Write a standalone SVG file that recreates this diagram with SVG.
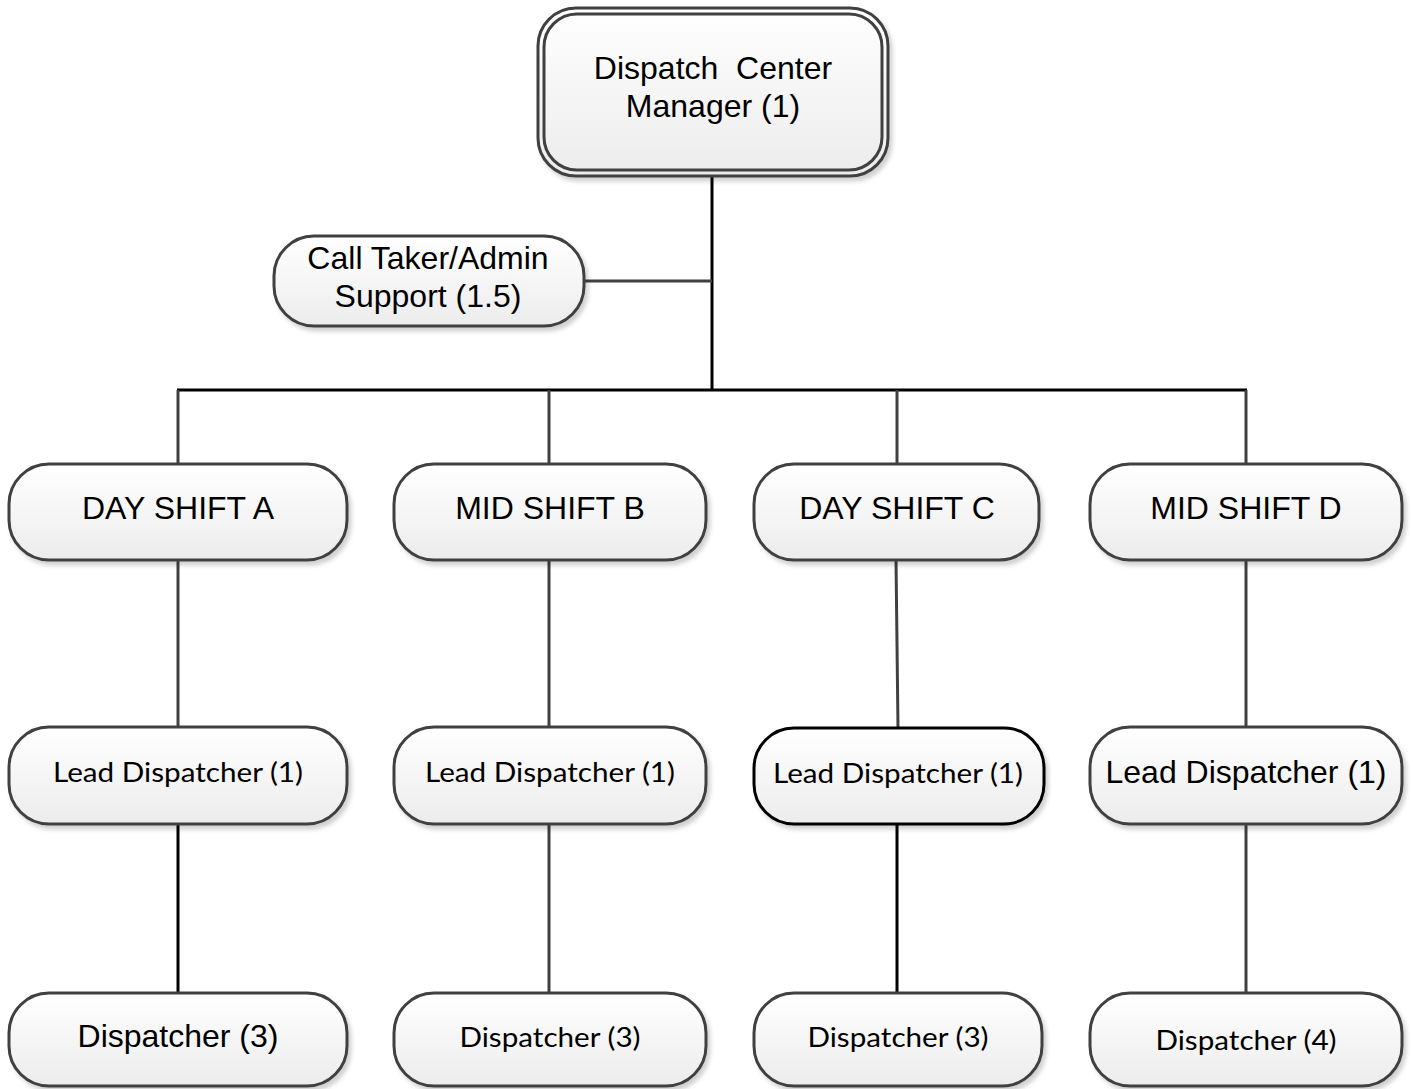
<svg xmlns="http://www.w3.org/2000/svg" width="1413" height="1089" viewBox="0 0 1413 1089">
  <defs>
    <linearGradient id="boxFill" x1="0" y1="0" x2="0" y2="1">
      <stop offset="0" stop-color="#ffffff"/>
      <stop offset="1" stop-color="#ececec"/>
    </linearGradient>
    <filter id="shadow" x="-5%" y="-5%" width="115%" height="125%">
      <feDropShadow dx="3" dy="4" stdDeviation="2" flood-color="#000" flood-opacity="0.18"/>
    </filter>
  </defs>
  <style>
    .box { fill: url(#boxFill); stroke: #404040; stroke-width: 3; filter: url(#shadow); }
    .box-dark { stroke: #000; }
    .ring { fill: none; stroke: #404040; stroke-width: 3; }
    .arial { font-family: "Liberation Sans", Arial, sans-serif; font-size: 32px; fill: #000; text-anchor: middle; }
    .cal { font-family: Lato, "Noto Sans", sans-serif; font-size: 27px; fill: #000; text-anchor: middle; }
    .wire { stroke: #404040; stroke-width: 3; fill: none; }
    .wire-dark { stroke: #000; stroke-width: 3; fill: none; }
  </style>
  <rect width="1413" height="1089" fill="#fff"/>

  <!-- connectors -->
  <g id="connectors">
    <line class="wire-dark" x1="712" y1="176" x2="712" y2="391"/>
    <line class="wire" x1="583" y1="281" x2="712" y2="281"/>
    <line class="wire-dark" x1="177" y1="390" x2="1247" y2="390"/>
    <line class="wire" x1="178" y1="390" x2="178" y2="465"/>
    <line class="wire" x1="549" y1="390" x2="549" y2="465"/>
    <line class="wire" x1="897" y1="390" x2="897" y2="465"/>
    <line class="wire" x1="1246" y1="390" x2="1246" y2="465"/>
    <line class="wire" x1="178" y1="560" x2="178" y2="728"/>
    <line class="wire" x1="549" y1="560" x2="549" y2="728"/>
    <line class="wire" x1="896" y1="560" x2="898" y2="728"/>
    <line class="wire" x1="1246" y1="560" x2="1246" y2="728"/>
    <line class="wire-dark" x1="178" y1="824" x2="178" y2="994"/>
    <line class="wire" x1="549" y1="824" x2="549" y2="994"/>
    <line class="wire-dark" x1="897" y1="824" x2="897" y2="994"/>
    <line class="wire" x1="1246" y1="824" x2="1246" y2="994"/>
  </g>

  <!-- top manager with double border -->
  <g id="manager">
    <rect class="box" x="538" y="8" width="350" height="168" rx="38"/>
    <rect class="ring" x="544" y="14" width="338" height="156" rx="33"/>
    <text class="arial" x="713" y="79">Dispatch&#160; Center</text>
    <text class="arial" x="713" y="117">Manager (1)</text>
  </g>

  <g id="call-taker">
    <rect class="box" x="274" y="236" width="310" height="90" rx="40"/>
    <text class="arial" x="428" y="269">Call Taker/Admin</text>
    <text class="arial" x="428" y="307">Support (1.5)</text>
  </g>

  <!-- shift row -->
  <g id="shift-a">
    <rect class="box" x="9" y="464" width="338" height="96" rx="40"/>
    <text class="arial" x="178" y="519">DAY SHIFT A</text>
  </g>
  <g id="shift-b">
    <rect class="box" x="394" y="464" width="312" height="96" rx="40"/>
    <text class="arial" x="550" y="519">MID SHIFT B</text>
  </g>
  <g id="shift-c">
    <rect class="box" x="754" y="464" width="285" height="96" rx="40"/>
    <text class="arial" x="897" y="519">DAY SHIFT C</text>
  </g>
  <g id="shift-d">
    <rect class="box" x="1090" y="464" width="312" height="96" rx="40"/>
    <text class="arial" x="1246" y="519">MID SHIFT D</text>
  </g>

  <!-- lead dispatchers -->
  <g id="lead-a">
    <rect class="box" x="9" y="727" width="338" height="97" rx="40"/>
    <text class="cal" x="178" y="782" textLength="250" lengthAdjust="spacingAndGlyphs">Lead Dispatcher (1)</text>
  </g>
  <g id="lead-b">
    <rect class="box" x="394" y="727" width="312" height="97" rx="40"/>
    <text class="cal" x="550" y="782" textLength="250" lengthAdjust="spacingAndGlyphs">Lead Dispatcher (1)</text>
  </g>
  <g id="lead-c">
    <rect class="box box-dark" x="754" y="728" width="290" height="96" rx="40"/>
    <text class="cal" x="898" y="783" textLength="250" lengthAdjust="spacingAndGlyphs">Lead Dispatcher (1)</text>
  </g>
  <g id="lead-d">
    <rect class="box" x="1090" y="727" width="312" height="97" rx="40"/>
    <text class="arial" x="1246" y="783">Lead Dispatcher (1)</text>
  </g>

  <!-- dispatchers -->
  <g id="disp-a">
    <rect class="box" x="9" y="993" width="338" height="93" rx="40"/>
    <text class="arial" x="178" y="1047">Dispatcher (3)</text>
  </g>
  <g id="disp-b">
    <rect class="box" x="394" y="993" width="312" height="93" rx="40"/>
    <text class="cal" x="550" y="1047" textLength="181" lengthAdjust="spacingAndGlyphs">Dispatcher (3)</text>
  </g>
  <g id="disp-c">
    <rect class="box" x="754" y="993" width="288" height="93" rx="40"/>
    <text class="cal" x="898" y="1047" textLength="181" lengthAdjust="spacingAndGlyphs">Dispatcher (3)</text>
  </g>
  <g id="disp-d">
    <rect class="box" x="1090" y="993" width="312" height="93" rx="40"/>
    <text class="cal" x="1246" y="1050" textLength="181" lengthAdjust="spacingAndGlyphs">Dispatcher (4)</text>
  </g>
</svg>
